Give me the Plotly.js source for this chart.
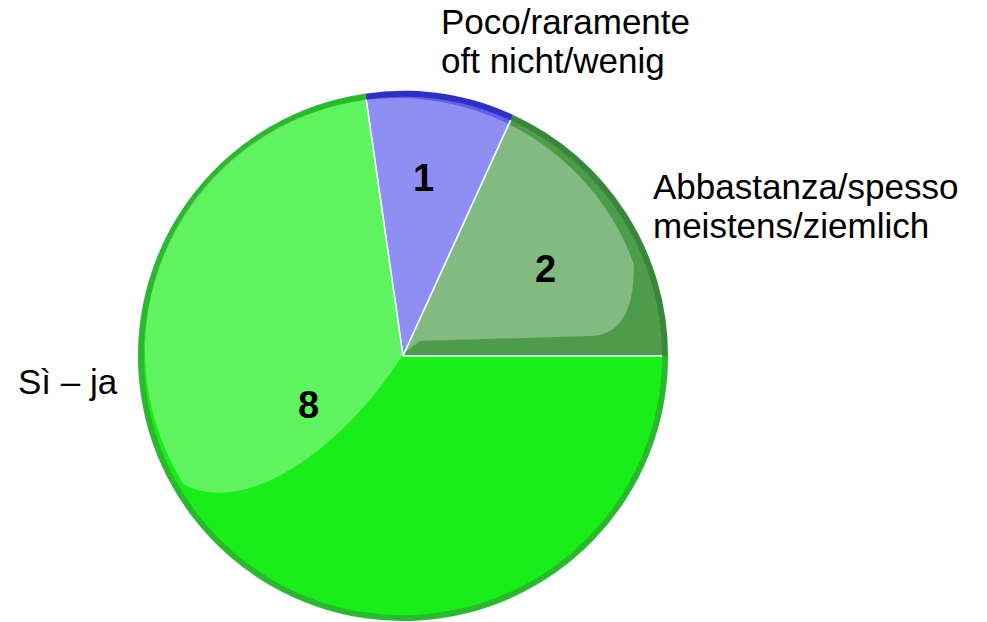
<!DOCTYPE html>
<html>
<head>
<meta charset="utf-8">
<script src="https://cdn.plot.ly/plotly-3.0.1.min.js"></script>
<style>html,body{margin:0;padding:0;background:#fff;}#chart{width:987px;height:622px;}</style>
</head>
<body>
<div id="chart"></div>
<script>
var categories = ["Poco/raramente – oft nicht/wenig", "Abbastanza/spesso – meistens/ziemlich", "Sì – ja"];
var values = [1, 2, 8];
var labelLines = [["Poco/raramente", "oft nicht/wenig"], ["Abbastanza/spesso", "meistens/ziemlich"], ["Sì – ja"]];
var sliceColors = ["#5e5eef", "#4c9c4c", "#1aee1a"];
var rimColors = ["#3030c0", "#3a863a", "#2cb82c"];

var W = 987, H = 622;
var total = values.reduce(function (a, b) { return a + b; }, 0);
// slice 2 ends exactly at 3 o'clock
var startAngle = 90 - (values[0] + values[1]) / total * 360;
var pieDomain = {x: [0.1398, 0.6768], y: [0.0016, 0.8537]};

var body = {
  type: "pie",
  labels: categories,
  values: values,
  sort: false,
  direction: "clockwise",
  rotation: startAngle,
  marker: {colors: sliceColors, line: {color: "#e8f6ff", width: 1.6}},
  textinfo: "none",
  hoverinfo: "label+value",
  showlegend: false,
  domain: pieDomain
};

var rim = {
  type: "pie",
  labels: categories,
  values: values,
  sort: false,
  direction: "clockwise",
  rotation: startAngle,
  hole: 0.978,
  marker: {colors: rimColors, line: {width: 0}},
  textinfo: "none",
  hoverinfo: "skip",
  showlegend: false,
  domain: pieDomain
};

// glossy highlight (style only), built in pixel space then mapped to paper
function px(x, y) { return (x / W).toFixed(5) + "," + (1 - y / H).toFixed(5); }
var hc = [397, 350], hr = 252;
var path = "";
for (var a = 238; a <= 432; a += 3) {
  var r = a * Math.PI / 180;
  path += (path ? " L" : "M") + px(hc[0] + hr * Math.sin(r), hc[1] - hr * Math.cos(r));
}
path += " Q" + px(635, 335) + " " + px(590, 336);
path += " L" + px(420, 341) + " L" + px(404, 353);
path += " C" + px(350, 440) + " " + px(250, 520) + " " + px(183, 484) + " Z";

var shapes = [{
  type: "path", xref: "paper", yref: "paper", path: path,
  fillcolor: "rgba(255,255,255,0.30)", line: {width: 0}, layer: "above"
}];

var lblFont = {family: "Liberation Sans, Arial, sans-serif", size: 35, color: "#000000"};
var pos = [
  [[0.4468, 0.9341, "bottom"], [0.4468, 0.9341, "top"]],
  [[0.6616, 0.6695, "bottom"], [0.6616, 0.6695, "top"]],
  [[0.0182, 0.3859, "middle"]]
];
var annotations = [];
labelLines.forEach(function (lines, i) {
  lines.forEach(function (t, j) {
    annotations.push({
      text: t, xref: "paper", yref: "paper",
      x: pos[i][j][0], y: pos[i][j][1],
      xanchor: "left", yanchor: pos[i][j][2],
      borderpad: 0, borderwidth: 0,
      showarrow: false, font: lblFont
    });
  });
});

var numFont = {family: "Liberation Sans, Arial, sans-serif", size: 38, color: "#000000", weight: "bold"};
var numPos = [[0.4286, 0.7138], [0.5522, 0.5675], [0.3121, 0.3489]];
values.forEach(function (v, i) {
  annotations.push({
    text: String(v), xref: "paper", yref: "paper",
    x: numPos[i][0], y: numPos[i][1],
    xanchor: "center", yanchor: "middle",
    borderpad: 0, borderwidth: 0,
    showarrow: false, font: numFont
  });
});

var layout = {
  width: W, height: H,
  margin: {l: 0, r: 0, t: 0, b: 0},
  paper_bgcolor: "#ffffff",
  plot_bgcolor: "#ffffff",
  shapes: shapes,
  annotations: annotations
};

Plotly.newPlot("chart", [body, rim], layout, {displayModeBar: false, staticPlot: true});
</script>
</body>
</html>
